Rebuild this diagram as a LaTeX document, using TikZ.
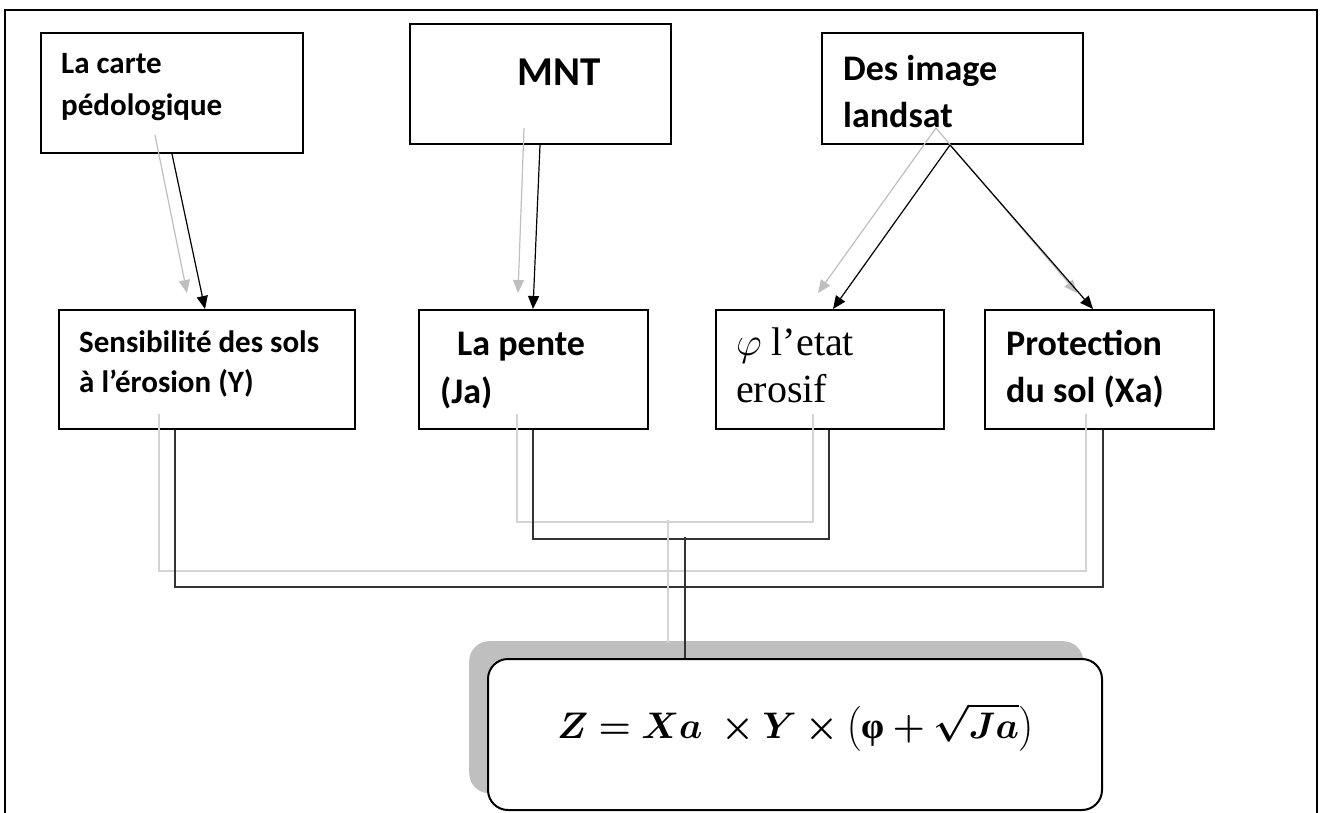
\RequirePackage{fix-cm}
\documentclass[tikz,border=0pt]{standalone}
\usepackage{fontspec}
\usepackage{amsmath}
\usepackage{bm}
\setmainfont{Carlito}
\newfontfamily\serifface{Liberation Serif}
\usetikzlibrary{arrows.meta,calc}
\definecolor{arrgray}{HTML}{BFBFBF}
\definecolor{lingray}{HTML}{D4D4D4}
\definecolor{shadgray}{HTML}{BFBFBF}
\definecolor{darkline}{HTML}{333333}
\begin{document}
\begin{tikzpicture}[x=1pt,y=-1pt,
  box/.style={draw, line width=2pt, fill=white, inner sep=0pt, anchor=north west},
  txt/.style={anchor=base west, inner sep=0pt},
  blackarrow/.style={draw=black, line width=1.2pt, -{Triangle[length=13pt,width=11pt]}},
  grayarrow/.style={draw=arrgray, line width=1.2pt, -{Triangle[length=13pt,width=11pt]}},
  darkconn/.style={draw=darkline, line width=1.3pt},
  grayconn/.style={draw=lingray, line width=1.3pt},
  fs31/.style={font=\bfseries\fontsize{31}{37}\selectfont},
  fs36/.style={font=\bfseries\fontsize{36}{43}\selectfont},
  fs41/.style={font=\bfseries\fontsize{41}{49}\selectfont},
  serif36/.style={font=\serifface\fontsize{40}{48}\selectfont}
]
\useasboundingbox (0,0) rectangle (1322,812);
\fill[white] (0,0) rectangle (1322,812);
% outer frame
\draw[line width=2pt] (5,830) -- (5,10) -- (1317,10) -- (1317,830);

% top boxes
\node[box, minimum width=262pt, minimum height=120pt] (carte) at (40,32) {};
\node[box, minimum width=261pt, minimum height=120pt] (mnt) at (409,23) {};
\node[box, minimum width=261pt, minimum height=111pt] (land) at (821,32) {};
% middle boxes
\node[box, minimum width=296pt, minimum height=119pt] (sens) at (58,309) {};
\node[box, minimum width=229pt, minimum height=119pt] (pente) at (418,309) {};
\node[box, minimum width=228pt, minimum height=119pt] (phi) at (715,309) {};
\node[box, minimum width=229pt, minimum height=119pt] (prot) at (984,309) {};

% texts
\node[txt, fs31] (carte1) at (61,73) {La carte};
\node[txt, fs31] (carte2) at (61,115) {pédologique};
\node[txt, fs41] (mnttxt) at (517,85) {MNT};
\node[txt, fs36] (land1) at (843,80) {Des image};
\node[txt, fs36] (land2) at (843,127) {landsat};
\node[txt, fs31] (sens1) at (79,352) {Sensibilité des sols};
\node[txt, fs31] (sens2) at (79,392) {à l’érosion (Y)};
\node[txt, fs36] (pente1) at (457,355) {La pente};
\node[txt, fs36] (pente2) at (440,403) {(Ja)};
\node[txt, serif36] (phi1) at (736,355) {$\varphi$ l’etat};
\node[txt, serif36] (phi2) at (736,402) {erosif};
\node[txt, fs36] (prot1) at (1006,355) {Protection};
\node[txt, fs36] (prot2) at (1006,402) {du sol (Xa)};

% gray arrows (behind)
\coordinate (gc1) at (155,135);
\coordinate (gc2) at (187,293);
\coordinate (gm1) at (524,128);
\coordinate (gm2) at (518,293);
\coordinate (gl1) at (936,128);
\coordinate (gl2) at (818,293);
\coordinate (gl3) at (1077,293);
\draw[grayarrow] (gc1) -- (gc2);
\draw[grayarrow] (gm1) -- (gm2);
\draw[grayarrow] (gl1) -- (gl2);
\draw[grayarrow] (gl1) -- (gl3);

% black arrows
\draw[blackarrow] ($(carte.south west)+(132,0)$) -- ($(sens.north west)+(147,0)$);
\draw[blackarrow] ($(mnt.south west)+(131,0)$) -- ($(pente.north west)+(115,0)$);
\draw[blackarrow] ($(land.south west)+(129,0)$) -- ($(phi.north west)+(118,0)$);
\draw[blackarrow] ($(land.south west)+(129,0)$) -- ($(prot.north west)+(109,0)$);

% connectors
\draw[grayconn] ($(sens.south west)+(101,-16)$) -- ++(0,157) -| ($(prot.south west)+(102,-16)$);
\draw[grayconn] ($(pente.south west)+(99,-16)$) -- ++(0,108) -| ($(phi.south west)+(98,-16)$);
\draw[darkconn] ($(sens.south west)+(117,0)$) -- ++(0,157) -| ($(prot.south west)+(119,0)$);
\draw[darkconn] ($(pente.south west)+(115,0)$) -- ++(0,109) -| ($(phi.south west)+(114,0)$);

% formula box
\node[anchor=north west, fill=shadgray, rounded corners=20pt, inner sep=0pt,
      minimum width=614pt, minimum height=152pt] (shad) at (469,641) {};
\draw[grayconn] ($(shad.north west)+(199,2)$) -- ++(0,-123);
\node[box, rounded corners=20pt, minimum width=614pt, minimum height=151pt] (form) at (487,658) {};
\draw[darkconn] ($(form.north west)+(198,0)$) -- ++(0,-121);
\node[txt, font=\fontsize{37}{44}\selectfont] (ftxt) at (557,738)
  {$\bm{Z = Xa\;\times Y \times \bigl(\text{\serifface\bfseries φ} + \sqrt{Ja}\bigr)}$};
\end{tikzpicture}
\end{document}
